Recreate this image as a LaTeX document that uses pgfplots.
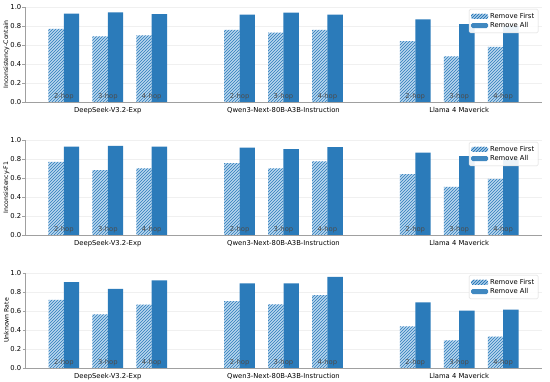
\documentclass[border=0pt]{standalone}
\usepackage{pgfplots}
\pgfplotsset{compat=1.18}
\usepackage{pgfplotstable}
\usepackage{fontspec}
\setmainfont{DejaVu Sans}
\usetikzlibrary{patterns}
\definecolor{darkb}{HTML}{2B7BBA}
\definecolor{lightb}{HTML}{B9D6EE}
\definecolor{spine}{HTML}{A0A0A0}
\tikzset{hop/.style={font=\fontsize{6.8}{7}\selectfont, text=black!70}}

% x: 0,1,2 DeepSeek; 4,5,6 Qwen; 8,9,10 Llama
\pgfplotstableread{
x rf ra
0 0.77 0.930
1 0.69 0.944
2 0.70 0.926
4 0.76 0.920
5 0.73 0.940
6 0.76 0.920
8 0.64 0.870
9 0.48 0.820
10 0.58 0.800
}\contain
\pgfplotstableread{
x rf ra
0 0.770 0.930
1 0.683 0.937
2 0.700 0.930
4 0.757 0.920
5 0.700 0.905
6 0.774 0.926
8 0.640 0.866
9 0.507 0.830
10 0.590 0.800
}\fone
\pgfplotstableread{
x rf ra
0 0.717 0.905
1 0.565 0.834
2 0.668 0.922
4 0.703 0.890
5 0.670 0.890
6 0.767 0.960
8 0.438 0.690
9 0.290 0.604
10 0.330 0.615
}\unknown

\pgfplotsset{
  panel/.style={
    anchor=south west,
    scale only axis,
    width=517pt, height=95pt,
    xmin=-0.885, xmax=10.885,
    ymin=0, ymax=1.0,
    axis x line*=bottom, axis y line*=left,
    axis line style={spine, line width=0.8pt},
    xtick={1,5,9},
    xticklabels={DeepSeek-V3.2-Exp, Qwen3-Next-80B-A3B-Instruction, Llama 4 Maverick},
    x tick label style={font=\fontsize{6.8}{8}\selectfont, yshift=1pt},
    major x tick style={draw=none},
    ytick={0,0.2,0.4,0.6,0.8,1.0},
    yticklabel style={/pgf/number format/fixed, /pgf/number format/fixed zerofill, /pgf/number format/precision=1, font=\fontsize{6.8}{8}\selectfont, inner xsep=1pt},
    /pgf/number format/assume math mode=true,
    y tick style={spine, line width=0.6pt},
    major tick length=2.5pt,
    tick align=outside,
    ymajorgrids, grid style={gray!12, line width=0.5pt},
    every axis y label/.style={at={(axis description cs:-0.036,0.5)}, rotate=90, anchor=center,
      font=\fontsize{6.2}{7}\selectfont},
    legend style={at={(rel axis cs:0.993,0.98)}, anchor=north east, font=\fontsize{6.8}{8}\selectfont,
      draw=gray!30, rounded corners=1.5pt, inner sep=2pt, row sep=-1.5pt, fill=white, fill opacity=0.9, text opacity=1},
    legend cell align=left,
    bar width=0.35,
  },
  rfstyle/.style={ybar, bar shift=-0.175, draw=none, fill=lightb,
    postaction={pattern=north east lines, pattern color=darkb},
    legend image code/.code={
      \fill[lightb] (0pt,-2.5pt) rectangle (17pt,2.5pt);
      \fill[pattern=north east lines, pattern color=darkb] (0pt,-2.5pt) rectangle (17pt,2.5pt);}},
  rastyle/.style={ybar, bar shift=0.175, draw=none, fill=darkb,
    legend image code/.code={
      \fill[darkb] (0pt,-2.5pt) rectangle (17pt,2.5pt);}},
}

\newcommand{\hoplabels}{%
  \node[hop] at (axis cs:0,0.055) {2-hop};
  \node[hop] at (axis cs:1,0.055) {3-hop};
  \node[hop] at (axis cs:2,0.055) {4-hop};
  \node[hop] at (axis cs:4,0.055) {2-hop};
  \node[hop] at (axis cs:5,0.055) {3-hop};
  \node[hop] at (axis cs:6,0.055) {4-hop};
  \node[hop] at (axis cs:8,0.055) {2-hop};
  \node[hop] at (axis cs:9,0.055) {3-hop};
  \node[hop] at (axis cs:10,0.055) {4-hop};
}

\begin{document}
\begin{tikzpicture}
\useasboundingbox (0,0) rectangle (550pt,382pt);
% Panel 1
\begin{axis}[panel, at={(25pt,280pt)}, ylabel={Inconsistency-Contain}]
\addplot[rfstyle] table[x=x,y=rf]{\contain};
\addplot[rastyle] table[x=x,y=ra]{\contain};
\legend{Remove First, Remove All}
\hoplabels
\end{axis}
% Panel 2
\begin{axis}[panel, at={(25pt,147pt)}, ylabel={Inconsistency-F1}]
\addplot[rfstyle] table[x=x,y=rf]{\fone};
\addplot[rastyle] table[x=x,y=ra]{\fone};
\legend{Remove First, Remove All}
\hoplabels
\end{axis}
% Panel 3
\begin{axis}[panel, at={(25pt,14pt)}, ylabel={Unknown Rate}]
\addplot[rfstyle] table[x=x,y=rf]{\unknown};
\addplot[rastyle] table[x=x,y=ra]{\unknown};
\legend{Remove First, Remove All}
\hoplabels
\end{axis}
\end{tikzpicture}
\end{document}
